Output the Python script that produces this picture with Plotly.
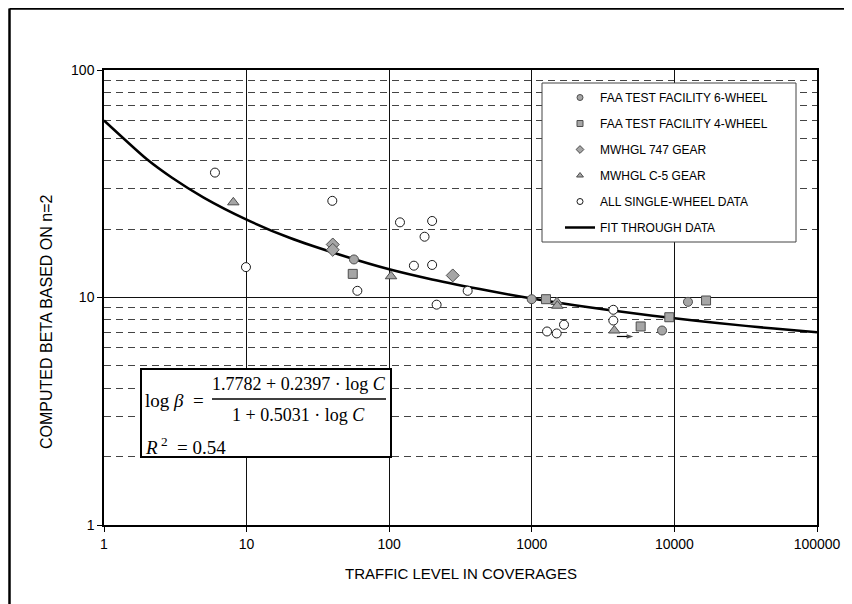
import plotly.graph_objects as go

# ---------------- data ----------------
faa6_x = [56.6, 998, 8190, 12450]
faa6_y = [14.7, 9.83, 7.16, 9.57]

faa4_x = [55.5, 1258, 5800, 9210, 16670]
faa4_y = [12.7, 9.83, 7.46, 8.19, 9.70]

g747_x = [40.2, 40.2, 279]
g747_y = [17.1, 16.2, 12.5]

c5_x = [8.07, 103, 1500, 1510, 3790]
c5_y = [26.2, 12.4, 9.55, 9.2, 7.16]

sw_x = [6.0, 39.9, 9.9, 59.8, 119, 200, 177, 149, 200, 355, 215,
        1279, 1495, 1682, 3730, 3730]
sw_y = [35.4, 26.6, 13.6, 10.7, 21.4, 21.7, 18.5, 13.8, 13.9, 10.7, 9.3,
        7.09, 6.95, 7.59, 8.83, 7.92]

fit_x = [1, 2, 3, 5, 10, 20, 50, 100, 200, 500, 1000, 2000, 5000,
         10000, 20000, 50000, 100000]
fit_y = [60.0, 40.5, 33.6, 27.5, 22.0, 18.3, 15.1, 13.3, 12.0, 10.7, 9.89,
         9.24, 8.54, 8.10, 7.72, 7.30, 7.03]

x_ticks = [1, 10, 100, 1000, 10000, 100000]
x_labels = ["1", "10", "100", "1000", "10000", "100000"]
y_ticks = [1, 10, 100]
y_labels = ["1", "10", "100"]
y_minor = [1, 10]          # decades that carry dashed minor grid lines
minor_digits = [2, 3, 4, 5, 6, 7, 8, 9]

arrow_x = [3950, 5150]
arrow_y = [6.74, 6.74]

series_names = ["FAA TEST FACILITY 6-WHEEL", "FAA TEST FACILITY 4-WHEEL",
                "MWHGL 747 GEAR", "MWHGL C-5 GEAR", "ALL SINGLE-WHEEL DATA",
                "FIT THROUGH DATA"]

# ---------------- layout helpers ----------------
# the page has an 8px body margin, so the figure starts at (8, 8)
OFF = 8
W, H = 852 - OFF, 604 - OFF
PL, PT, PR, PB = 104, 70, 817, 525       # plot area in page pixels
L, T = PL - OFF, PT - OFF
R, B = W - (PR - OFF), H - (PB - OFF)
PW, PH = PR - PL, PB - PT


def px(x):
    return (x - PL) / PW


def py(y):
    return (PB - y) / PH


GRAY = "#A6A6A6"
EDGE = "#4D4D4D"
SANS = "Arial, Liberation Sans, sans-serif"
SERIF = "Times New Roman, Liberation Serif, serif"

fig = go.Figure()

# fit line
fig.add_trace(go.Scatter(x=fit_x, y=fit_y, mode="lines",
                         line=dict(color="black", width=2.5, shape="spline", smoothing=0.6),
                         showlegend=False, hoverinfo="skip"))

marker_specs = [
    (faa6_x, faa6_y, "circle", GRAY, EDGE),
    (faa4_x, faa4_y, "square", GRAY, EDGE),
    (g747_x, g747_y, "diamond", GRAY, EDGE),
    (c5_x, c5_y, "triangle-up", GRAY, EDGE),
    (sw_x, sw_y, "circle", "white", "#1a1a1a"),
]
sizes = [9, 9, 10, 10, 9]
for (xs, ys, sym, fc, lc), s in zip(marker_specs, sizes):
    fig.add_trace(go.Scatter(x=xs, y=ys, mode="markers",
                             marker=dict(symbol=sym, size=s, color=fc,
                                         line=dict(color=lc, width=1)),
                             showlegend=False))

# small arrow next to the C-5 point
fig.add_trace(go.Scatter(x=arrow_x, y=arrow_y, mode="lines+markers",
                         line=dict(color="black", width=1.2),
                         marker=dict(symbol=["line-ns", "arrow"], size=[0, 7],
                                     angleref="previous", color="black",
                                     line=dict(width=0)),
                         showlegend=False, hoverinfo="skip"))

# legend-only entries (smaller symbols as in the reference legend)
for i, ((xs, ys, sym, fc, lc), name) in enumerate(zip(marker_specs, series_names)):
    fig.add_trace(go.Scatter(x=[None], y=[None], mode="markers", name=name,
                             legendgroup=f"g{i}",
                             marker=dict(symbol=sym, size=6, color=fc,
                                         line=dict(color=lc, width=1))))
fig.add_trace(go.Scatter(x=[None], y=[None], mode="lines", name=series_names[-1],
                         legendgroup="g5", line=dict(color="black", width=2.5)))

minor_vals = [d * m for d in y_minor for m in minor_digits]

fig.update_layout(
    width=W, height=H,
    margin=dict(l=L, r=R, t=T, b=B, autoexpand=False),
    paper_bgcolor="white", plot_bgcolor="white",
    font=dict(family=SANS, color="black"),
    xaxis=dict(type="log", range=[0, 5], tickmode="array",
               tickvals=x_ticks, ticktext=x_labels, automargin=False,
               showgrid=True, gridcolor="#111", gridwidth=1,
               ticks="outside", ticklen=5, tickcolor="black",
               showline=True, mirror=True, linecolor="black", linewidth=1.5,
               zeroline=False, tickfont=dict(size=14, family=SANS)),
    yaxis=dict(type="log", range=[0, 2], tickmode="array",
               tickvals=y_ticks, ticktext=y_labels, automargin=False,
               showgrid=True, gridcolor="#111", gridwidth=1,
               ticks="outside", ticklen=5, tickcolor="black",
               showline=True, mirror=True, linecolor="black", linewidth=1.5,
               zeroline=False, tickfont=dict(size=14, family=SANS),
               minor=dict(tickmode="array", tickvals=minor_vals, showgrid=True,
                          gridcolor="#444", gridwidth=1, griddash="7px,5px",
                          ticks="")),
    legend=dict(x=px(560), y=py(83), xanchor="left", yanchor="top",
                bgcolor="rgba(0,0,0,0)", borderwidth=0,
                traceorder="grouped", tracegroupgap=7,
                font=dict(size=12, family=SANS, color="black")),
)

shapes = [
    # legend frame
    dict(type="rect", xref="paper", yref="paper",
         x0=px(542), x1=px(796), y0=py(242), y1=py(83),
         line=dict(color="#444", width=1), fillcolor="white", layer="above"),
    # equation box
    dict(type="rect", xref="paper", yref="paper",
         x0=px(141), x1=px(391), y0=py(457), y1=py(369),
         line=dict(color="black", width=2), fillcolor="white", layer="above"),
    # fraction bar
    dict(type="line", xref="paper", yref="paper",
         x0=px(212), x1=px(386), y0=py(399), y1=py(399),
         line=dict(color="black", width=1.3), layer="above"),
    # outer frame (left and top)
    dict(type="line", xref="paper", yref="paper",
         x0=px(9.5), x1=px(9.5), y0=py(8.5), y1=py(620),
         line=dict(color="black", width=2.5)),
    dict(type="line", xref="paper", yref="paper",
         x0=px(9.5), x1=px(870), y0=py(8.5), y1=py(8.5),
         line=dict(color="black", width=2.5)),
]
fig.update_layout(shapes=shapes)

annotations = [
    dict(text="TRAFFIC LEVEL IN COVERAGES", xref="paper", yref="paper",
         x=0.5, y=py(573), xanchor="center", yanchor="middle", showarrow=False,
         font=dict(size=15, family=SANS, color="black")),
    dict(text="COMPUTED BETA BASED ON n=2", xref="paper", yref="paper",
         x=px(46), y=py(322), xanchor="center", yanchor="middle", showarrow=False,
         textangle=-90, font=dict(size=16, family=SANS, color="black")),
    dict(text="log <i>β</i>  =", xref="paper", yref="paper",
         x=px(143), y=py(400), xanchor="left", yanchor="middle", showarrow=False,
         font=dict(size=19, family=SERIF, color="black")),
    dict(text="1.7782 + 0.2397 · log <i>C</i>", xref="paper", yref="paper",
         x=px(299), y=py(384), xanchor="center", yanchor="middle", showarrow=False,
         font=dict(size=18, family=SERIF, color="black")),
    dict(text="1 + 0.5031 · log <i>C</i>", xref="paper", yref="paper",
         x=px(298), y=py(415), xanchor="center", yanchor="middle", showarrow=False,
         font=dict(size=18, family=SERIF, color="black")),
    dict(text="<i>R</i><sup> 2</sup>  = 0.54", xref="paper", yref="paper",
         x=px(143), y=py(446), xanchor="left", yanchor="middle", showarrow=False,
         font=dict(size=19, family=SERIF, color="black")),
]
fig.update_layout(annotations=annotations)

fig.write_html("out.html")
